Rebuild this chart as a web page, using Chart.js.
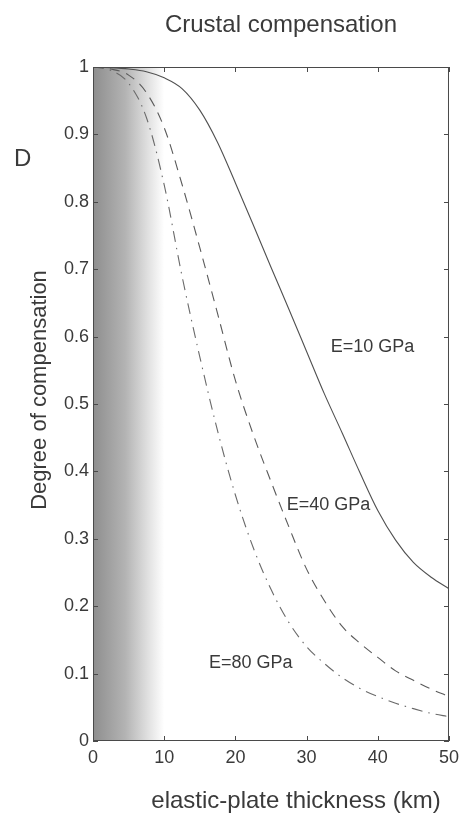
<!DOCTYPE html>
<html>
<head>
<meta charset="utf-8">
<script src="https://cdn.jsdelivr.net/npm/chart.js@4.4.1/dist/chart.umd.min.js"></script>
<style>
  html, body { margin: 0; padding: 0; background: #fff; }
  #wrap { width: 465px; height: 817px; }
</style>
</head>
<body>
<div id="wrap"><canvas id="chart"></canvas></div>
<script>
// plate thickness (km)
const thickness = [0, 2.5, 5, 7.5, 10, 12.5, 15, 17.5, 20, 22.5, 25, 27.5, 30, 32.5, 35, 37.5, 40, 42.5, 45, 47.5, 50]
// degree of compensation
const e10 = [1.000, 0.999, 0.997, 0.993, 0.984, 0.968, 0.936, 0.888, 0.828, 0.766, 0.703, 0.641, 0.578, 0.515, 0.457, 0.398, 0.342, 0.298, 0.265, 0.243, 0.226]
const e40 = [1.000, 0.997, 0.988, 0.962, 0.910, 0.826, 0.732, 0.634, 0.535, 0.455, 0.385, 0.318, 0.255, 0.208, 0.170, 0.145, 0.124, 0.104, 0.090, 0.077, 0.066]
const e80 = [1.000, 0.995, 0.976, 0.925, 0.825, 0.690, 0.570, 0.460, 0.365, 0.287, 0.225, 0.176, 0.140, 0.115, 0.094, 0.078, 0.066, 0.056, 0.048, 0.041, 0.036]

const seriesNames = ['E=10 GPa', 'E=40 GPa', 'E=80 GPa']
// where each curve label sits (data units: left edge x, middle y)
const labelX = [33.4, 27.2, 16.3]
const labelY = [0.585, 0.350, 0.116]

const xTicks = [0, 10, 20, 30, 40, 50]
const yTicks = [0, 0.1, 0.2, 0.3, 0.4, 0.5, 0.6, 0.7, 0.8, 0.9, 1]
const shadeRange = [0, 10]

const FONT = '"Liberation Sans", Arial, Helvetica, sans-serif'
const INK = '#3a3a3a'

const pts = ys => thickness.map((x, i) => ({ x: x, y: ys[i] }))

// grey shading near zero thickness, fades out to white
const shadePlugin = {
  id: 'shade',
  beforeDatasetsDraw(chart) {
    const { ctx, chartArea, scales } = chart
    const x0 = scales.x.getPixelForValue(shadeRange[0])
    const x1 = scales.x.getPixelForValue(shadeRange[1])
    const g = ctx.createLinearGradient(x0, 0, x1, 0)
    g.addColorStop(0, '#8e8e8e')
    g.addColorStop(0.45, '#b3b3b3')
    g.addColorStop(0.8, '#e4e4e4')
    g.addColorStop(1, '#ffffff')
    ctx.save()
    ctx.fillStyle = g
    ctx.fillRect(x0, chartArea.top, x1 - x0, chartArea.bottom - chartArea.top)
    ctx.restore()
  }
}

// box with inward ticks on all four sides, matlab style
const boxPlugin = {
  id: 'box',
  afterDatasetsDraw(chart) {
    const { ctx, chartArea: a, scales } = chart
    const len = 5
    ctx.save()
    ctx.strokeStyle = '#4a4a4a'
    ctx.lineWidth = 1
    ctx.strokeRect(a.left + 0.5, a.top + 0.5, a.right - a.left - 1, a.bottom - a.top - 1)
    ctx.beginPath()
    xTicks.forEach(v => {
      const px = Math.round(scales.x.getPixelForValue(v)) + 0.5
      ctx.moveTo(px, a.bottom); ctx.lineTo(px, a.bottom - len)
      ctx.moveTo(px, a.top); ctx.lineTo(px, a.top + len)
    })
    yTicks.forEach(v => {
      const py = Math.round(scales.y.getPixelForValue(v)) + 0.5
      ctx.moveTo(a.left, py); ctx.lineTo(a.left + len, py)
      ctx.moveTo(a.right, py); ctx.lineTo(a.right - len, py)
    })
    ctx.stroke()
    ctx.restore()
  }
}

// titles and curve labels
const textPlugin = {
  id: 'texts',
  afterDraw(chart) {
    const { ctx, scales } = chart
    ctx.save()
    ctx.fillStyle = INK
    ctx.textBaseline = 'middle'

    ctx.font = '24px ' + FONT
    ctx.textAlign = 'center'
    ctx.fillText('Crustal compensation', 281, 25)
    ctx.fillText('elastic-plate thickness (km)', 296, 801)
    ctx.textAlign = 'left'
    ctx.fillText('D', 14, 159)

    ctx.save()
    ctx.font = '22px ' + FONT
    ctx.translate(40, 390)
    ctx.rotate(-Math.PI / 2)
    ctx.textAlign = 'center'
    ctx.fillText('Degree of compensation', 0, 0)
    ctx.restore()

    ctx.font = '18px ' + FONT
    ctx.textAlign = 'left'
    seriesNames.forEach((name, i) => {
      ctx.fillText(name, scales.x.getPixelForValue(labelX[i]), scales.y.getPixelForValue(labelY[i]))
    })
    ctx.restore()
  }
}

const ctx = document.getElementById('chart').getContext('2d')

new Chart(ctx, {
  type: 'line',
  data: {
    datasets: [
      { label: seriesNames[0], data: pts(e10), borderColor: '#505050', borderWidth: 1.1 },
      { label: seriesNames[1], data: pts(e40), borderColor: '#5a5a5a', borderWidth: 1.1, borderDash: [10, 7] },
      { label: seriesNames[2], data: pts(e80), borderColor: '#6a6a6a', borderWidth: 1.1, borderDash: [11, 6, 1.5, 6] }
    ]
  },
  options: {
    responsive: true,
    maintainAspectRatio: false,
    animation: false,
    layout: { padding: { top: 67, right: 13, left: 0, bottom: 0 } },
    elements: {
      point: { radius: 0 },
      line: { cubicInterpolationMode: 'monotone', fill: false }
    },
    plugins: {
      legend: { display: false },
      tooltip: { enabled: false },
      title: { display: false }
    },
    scales: {
      x: {
        type: 'linear',
        min: 0,
        max: 50,
        grid: { display: false, drawTicks: false },
        border: { display: false },
        afterBuildTicks: s => { s.ticks = xTicks.map(v => ({ value: v })) },
        afterFit: s => { s.height = 76 },
        ticks: { color: INK, padding: 6, font: { family: FONT, size: 18 } }
      },
      y: {
        min: 0,
        max: 1,
        grid: { display: false, drawTicks: false },
        border: { display: false },
        afterBuildTicks: s => { s.ticks = yTicks.map(v => ({ value: v })) },
        afterFit: s => { s.width = 93 },
        ticks: {
          color: INK,
          padding: 4,
          font: { family: FONT, size: 18 },
          callback: v => String(v)
        }
      }
    }
  },
  plugins: [shadePlugin, boxPlugin, textPlugin]
})
</script>
</body>
</html>
